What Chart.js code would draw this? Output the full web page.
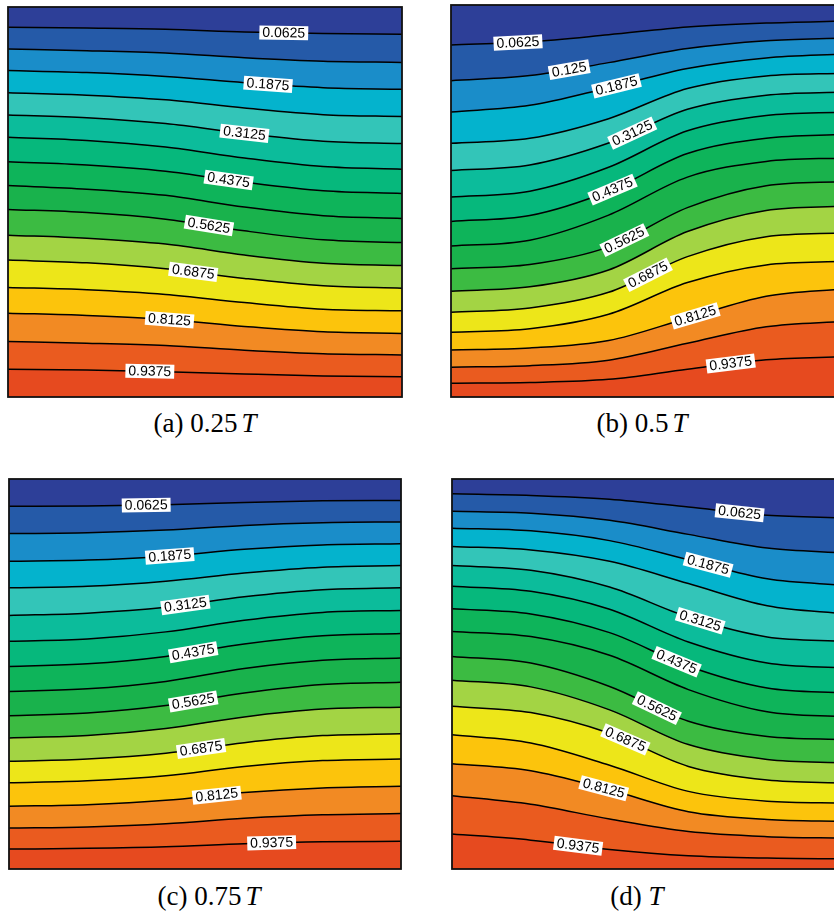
<!DOCTYPE html>
<html>
<head>
<meta charset="utf-8">
<script src="https://cdn.jsdelivr.net/npm/chart.js@4.4.1/dist/chart.umd.min.js"></script>
<style>
  html, body { margin: 0; padding: 0; background: #fff; width: 834px; height: 916px; overflow: hidden; }
  body { position: relative; }
  .panel { position: absolute; }
  .cap {
    position: absolute; width: 300px; text-align: center; white-space: nowrap;
    font-family: "Liberation Serif", "Times New Roman", serif; font-size: 27px; line-height: 27px; color: #000;
  }
  .cap i { margin-left: 4px; }
</style>
</head>
<body>
<canvas id="panel-a" class="panel" width="396" height="392" style="left:7px;top:6px"></canvas>
<canvas id="panel-b" class="panel" width="396" height="394" style="left:450px;top:4px"></canvas>
<canvas id="panel-c" class="panel" width="394" height="392" style="left:8px;top:478px"></canvas>
<canvas id="panel-d" class="panel" width="396" height="392" style="left:451px;top:478px"></canvas>
<div class="cap" style="left:55px;top:410px">(a) 0.25<i>T</i></div>
<div class="cap" style="left:492px;top:410px">(b) 0.5<i>T</i></div>
<div class="cap" style="left:59px;top:883px">(c) 0.75<i>T</i></div>
<div class="cap" style="left:487px;top:883px">(d) <i style="margin-left:0">T</i></div>
<script>
// contour levels 0.0625 .. 0.9375, one line per level
const LEVELS = ["0.0625", "0.125", "0.1875", "0.25", "0.3125", "0.375", "0.4375", "0.5",
  "0.5625", "0.625", "0.6875", "0.75", "0.8125", "0.875", "0.9375"];

// band colours, top band first
const BAND_COLORS = [
  "#2d3f98", "#255aa8", "#1a8dc9", "#04b3cd", "#33c5b8", "#0cbc9b", "#06b87c", "#0eb45a",
  "#19b24c", "#3cbb42", "#a3d444", "#ede619", "#fcc40c", "#f28a23", "#ea5b1f", "#e64a1f",
];

// horizontal sample positions (fraction of the box width)
const X_POS = [0, 0.2, 0.4, 0.6, 0.8, 1];

// depth of each contour below the top of the box, in % of box height
const LINES_A = [
  [5.2, 5.4, 5.7, 6.4, 6.8, 7.0],
  [10.8, 11.2, 11.8, 13.0, 13.9, 14.2],
  [16.3, 16.8, 17.8, 19.4, 20.7, 21.1],
  [22.0, 22.6, 23.8, 25.9, 27.6, 28.1],
  [27.7, 28.4, 29.9, 32.4, 34.4, 35.0],
  [33.4, 34.2, 35.9, 38.7, 40.9, 41.6],
  [39.7, 40.5, 42.1, 44.9, 47.1, 47.8],
  [45.8, 46.7, 48.3, 51.3, 53.5, 54.2],
  [51.9, 52.7, 54.4, 57.4, 59.7, 60.4],
  [58.5, 59.3, 60.8, 63.6, 65.7, 66.3],
  [64.9, 65.6, 67.1, 69.6, 71.5, 72.1],
  [71.9, 72.5, 73.7, 75.8, 77.5, 77.9],
  [78.5, 79.1, 80.1, 81.9, 83.3, 83.7],
  [85.8, 86.2, 86.8, 88.0, 88.9, 89.2],
  [92.9, 93.1, 93.5, 94.1, 94.6, 94.8],
];

const LINES_B = [
  [10.2, 9.4, 7.6, 5.6, 4.6, 4.1],
  [19.3, 18.0, 14.7, 11.1, 9.1, 8.4],
  [27.3, 25.6, 21.1, 16.2, 13.5, 12.5],
  [35.3, 34.0, 29.0, 21.3, 18.1, 17.4],
  [42.2, 40.8, 35.2, 26.6, 23.0, 22.2],
  [49.0, 47.5, 41.4, 32.1, 28.2, 27.3],
  [55.2, 53.7, 47.5, 37.9, 34.0, 33.0],
  [61.5, 60.0, 53.6, 43.9, 39.9, 39.0],
  [67.3, 66.2, 61.7, 51.7, 46.1, 45.0],
  [73.0, 71.9, 67.6, 57.8, 52.4, 51.3],
  [78.4, 77.3, 73.3, 64.2, 59.1, 58.1],
  [83.5, 82.6, 78.9, 70.8, 66.3, 65.4],
  [88.0, 87.5, 85.6, 79.9, 74.3, 72.4],
  [92.4, 92.0, 90.6, 86.3, 82.1, 80.7],
  [96.5, 96.3, 95.5, 92.9, 90.5, 89.7],
];

const LINES_C = [
  [7.0, 6.9, 6.6, 6.0, 5.6, 5.5],
  [14.0, 13.8, 13.1, 11.9, 11.2, 11.0],
  [21.1, 20.8, 19.8, 18.0, 16.9, 16.6],
  [27.9, 27.5, 26.2, 24.1, 22.6, 22.2],
  [35.0, 34.4, 32.9, 30.2, 28.4, 27.9],
  [41.6, 41.0, 39.2, 36.2, 34.2, 33.7],
  [48.1, 47.4, 45.5, 42.3, 40.2, 39.6],
  [54.5, 53.8, 51.9, 48.6, 46.5, 45.9],
  [60.7, 60.0, 58.1, 54.9, 52.7, 52.1],
  [66.4, 65.8, 64.0, 61.0, 59.0, 58.5],
  [72.4, 71.8, 70.3, 67.6, 65.8, 65.3],
  [77.9, 77.4, 76.1, 73.7, 72.2, 71.8],
  [83.9, 83.5, 82.4, 80.4, 79.2, 78.8],
  [89.5, 89.2, 88.4, 87.0, 86.1, 85.8],
  [94.9, 94.7, 94.3, 93.5, 93.0, 92.9],
];

const LINES_D = [
  [3.8, 4.2, 5.2, 7.2, 9.3, 10.0],
  [8.3, 8.8, 10.6, 14.2, 17.7, 19.0],
  [12.6, 13.3, 15.8, 20.7, 25.6, 27.3],
  [17.3, 18.2, 21.1, 26.8, 32.5, 34.6],
  [22.2, 23.4, 27.7, 35.4, 40.5, 41.6],
  [27.5, 28.8, 33.4, 41.8, 47.2, 48.5],
  [33.3, 34.6, 39.4, 48.0, 53.6, 54.9],
  [39.1, 40.4, 45.2, 54.0, 59.7, 61.0],
  [45.5, 47.2, 53.2, 62.1, 66.0, 66.8],
  [51.6, 53.3, 59.2, 68.1, 71.9, 72.8],
  [58.3, 59.9, 65.2, 73.7, 77.2, 78.0],
  [65.6, 67.7, 73.4, 80.1, 82.6, 83.1],
  [73.0, 74.8, 79.7, 85.3, 87.3, 87.8],
  [81.2, 83.4, 87.2, 90.4, 91.7, 92.1],
  [91.0, 92.6, 95.0, 96.6, 97.2, 97.4],
];

// which contour carries a label, and where along it (fraction of width)
const LABEL_LINES_A = [0, 2, 4, 6, 8, 10, 12, 14];
const LABEL_X_A = [0.70, 0.66, 0.60, 0.56, 0.51, 0.47, 0.41, 0.36];
const LABEL_LINES_B = [0, 1, 2, 4, 6, 8, 10, 12, 14];
const LABEL_X_B = [0.17, 0.30, 0.42, 0.46, 0.41, 0.44, 0.50, 0.62, 0.71];
const LABEL_LINES_C = [0, 2, 4, 6, 8, 10, 12, 14];
const LABEL_X_C = [0.35, 0.41, 0.45, 0.47, 0.47, 0.49, 0.53, 0.67];
const LABEL_LINES_D = [0, 2, 4, 6, 8, 10, 12, 14];
const LABEL_X_D = [0.73, 0.65, 0.63, 0.57, 0.52, 0.44, 0.385, 0.32];

// point + tangent on the drawn curve at pixel x
const pointOnCurve = (pts, px) => {
  let k = 0;
  while (k < pts.length - 2 && pts[k + 1].x < px) k++;
  const p0 = pts[k], p3 = pts[k + 1];
  const x1 = p0.cp2x ?? p0.x, y1 = p0.cp2y ?? p0.y;
  const x2 = p3.cp1x ?? p3.x, y2 = p3.cp1y ?? p3.y;
  const t = (px - p0.x) / (p3.x - p0.x);
  const mt = 1 - t;
  const y = mt * mt * mt * p0.y + 3 * mt * mt * t * y1 + 3 * mt * t * t * y2 + t * t * t * p3.y;
  const dx = 3 * mt * mt * (x1 - p0.x) + 6 * mt * t * (x2 - x1) + 3 * t * t * (p3.x - x2);
  const dy = 3 * mt * mt * (y1 - p0.y) + 6 * mt * t * (y2 - y1) + 3 * t * t * (p3.y - y2);
  return { y, angle: Math.atan2(dy, dx) };
};

const contourDecor = {
  id: "contourDecor",
  beforeDraw(chart) {
    const { ctx, chartArea: a } = chart;
    ctx.save();
    ctx.fillStyle = BAND_COLORS[0];
    ctx.fillRect(a.left, a.top, a.right - a.left, a.bottom - a.top);
    ctx.restore();
  },
  afterDatasetsDraw(chart, args, opts) {
    const { ctx, chartArea: a } = chart;
    const xScale = chart.scales.x;
    ctx.save();
    ctx.font = '14px "Liberation Sans", Arial, sans-serif';
    ctx.textAlign = "center";
    ctx.textBaseline = "middle";
    opts.lines.forEach((lineIdx, i) => {
      const px = xScale.getPixelForValue(opts.xs[i]);
      const pts = chart.getDatasetMeta(lineIdx).data;
      const { y, angle } = pointOnCurve(pts, px);
      const txt = LEVELS[lineIdx];
      const w = ctx.measureText(txt).width + 6;
      ctx.save();
      ctx.translate(px, y);
      ctx.rotate(angle);
      ctx.fillStyle = "#fff";
      ctx.fillRect(-w / 2, -7, w, 14);
      ctx.fillStyle = "#000";
      ctx.fillText(txt, 0, 0.5);
      ctx.restore();
    });
    ctx.strokeStyle = "#111";
    ctx.lineWidth = 1.8;
    ctx.strokeRect(a.left, a.top, a.right - a.left, a.bottom - a.top);
    ctx.restore();
  },
};

const renderPanel = (id, lines, labelLines, labelXs) => {
  const canvas = document.getElementById(id);
  const datasets = lines.map((vals, i) => ({
    data: vals.map((v, j) => ({ x: X_POS[j], y: v })),
    borderColor: "#000",
    borderWidth: 1.5,
    pointRadius: 0,
    cubicInterpolationMode: "monotone",
    fill: i < lines.length - 1 ? "+1" : { value: 100 },
    backgroundColor: BAND_COLORS[i + 1],
  }));

  new Chart(canvas.getContext("2d"), {
    type: "line",
    data: { datasets },
    options: {
      responsive: false,
      animation: false,
      devicePixelRatio: 1,
      events: [],
      layout: { padding: 1 },
      plugins: {
        legend: { display: false },
        tooltip: { enabled: false },
        filler: { drawTime: "beforeDatasetsDraw" },
        contourDecor: { lines: labelLines, xs: labelXs },
      },
      scales: {
        x: { type: "linear", min: 0, max: 1, display: false },
        y: { type: "linear", min: 0, max: 100, reverse: true, display: false },
      },
    },
    plugins: [contourDecor],
  });
};

renderPanel("panel-a", LINES_A, LABEL_LINES_A, LABEL_X_A);
renderPanel("panel-b", LINES_B, LABEL_LINES_B, LABEL_X_B);
renderPanel("panel-c", LINES_C, LABEL_LINES_C, LABEL_X_C);
renderPanel("panel-d", LINES_D, LABEL_LINES_D, LABEL_X_D);
</script>
</body>
</html>
